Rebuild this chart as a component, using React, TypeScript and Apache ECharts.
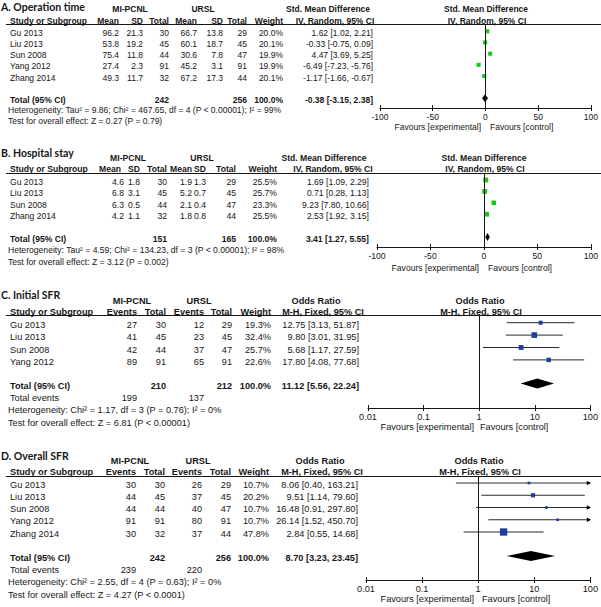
import React, { useEffect, useRef } from "react";
import * as echarts from "echarts";

// ---------------- Data ----------------
// A. Operation time (continuous)
const studiesA = ["Gu 2013", "Liu 2013", "Sun 2008", "Yang 2012", "Zhang 2014"];
const expMeanA = [96.2, 53.8, 75.4, 27.4, 49.3];
const expSdA = [21.3, 19.2, 11.8, 2.3, 11.7];
const expTotalA = [30, 45, 44, 91, 32];
const ctlMeanA = [66.7, 60.1, 30.6, 45.2, 67.2];
const ctlSdA = [13.8, 18.7, 7.8, 3.1, 17.3];
const ctlTotalA = [29, 45, 47, 91, 44];
const weightA = [20.0, 20.1, 19.9, 19.9, 20.1];
const smdA = [1.62, -0.33, 4.47, -6.49, -1.17];
const lowA = [1.02, -0.75, 3.69, -7.23, -1.66];
const highA = [2.21, 0.09, 5.25, -5.76, -0.67];
const totalsA = [242, 256];
const pooledA = [-0.38, -3.15, 2.38];
const hetA = "Heterogeneity: Tau² = 9.86; Chi² = 467.65, df = 4 (P < 0.00001); I² = 99%";
const testA = "Test for overall effect: Z = 0.27 (P = 0.79)";

// B. Hospital stay (continuous)
const studiesB = ["Gu 2013", "Liu 2013", "Sun 2008", "Zhang 2014"];
const expMeanB = [4.6, 6.8, 6.3, 4.2];
const expSdB = [1.8, 3.1, 0.5, 1.1];
const expTotalB = [30, 45, 44, 32];
const ctlMeanB = [1.9, 5.2, 2.1, 1.8];
const ctlSdB = [1.3, 0.7, 0.4, 0.8];
const ctlTotalB = [29, 45, 47, 44];
const weightB = [25.5, 25.7, 23.3, 25.5];
const smdB = [1.69, 0.71, 9.23, 2.53];
const lowB = [1.09, 0.28, 7.8, 1.92];
const highB = [2.29, 1.13, 10.66, 3.15];
const totalsB = [151, 165];
const pooledB = [3.41, 1.27, 5.55];
const hetB = "Heterogeneity: Tau² = 4.59; Chi² = 134.23, df = 3 (P < 0.00001); I² = 98%";
const testB = "Test for overall effect: Z = 3.12 (P = 0.002)";

// C. Initial SFR (dichotomous)
const studiesC = ["Gu 2013", "Liu 2013", "Sun 2008", "Yang 2012"];
const expEventsC = [27, 41, 42, 89];
const expTotalC = [30, 45, 44, 91];
const ctlEventsC = [12, 23, 37, 65];
const ctlTotalC = [29, 45, 47, 91];
const weightC = [19.3, 32.4, 25.7, 22.6];
const orC = [12.75, 9.8, 5.68, 17.8];
const lowC = [3.13, 3.01, 1.17, 4.08];
const highC = [51.87, 31.95, 27.59, 77.68];
const totalsC = [210, 212];
const totalEventsC = [199, 137];
const pooledC = [11.12, 5.56, 22.24];
const hetC = "Heterogeneity: Chi² = 1.17, df = 3 (P = 0.76); I² = 0%";
const testC = "Test for overall effect: Z = 6.81 (P < 0.00001)";

// D. Overall SFR (dichotomous)
const studiesD = ["Gu 2013", "Liu 2013", "Sun 2008", "Yang 2012", "Zhang 2014"];
const expEventsD = [30, 44, 44, 91, 30];
const expTotalD = [30, 45, 44, 91, 32];
const ctlEventsD = [26, 37, 40, 80, 37];
const ctlTotalD = [29, 45, 47, 91, 44];
const weightD = [10.7, 20.2, 10.7, 10.7, 47.8];
const orD = [8.06, 9.51, 16.48, 26.14, 2.84];
const lowD = [0.4, 1.14, 0.91, 1.52, 0.55];
const highD = [163.21, 79.6, 297.8, 450.7, 14.68];
const totalsD = [242, 256];
const totalEventsD = [239, 220];
const pooledD = [8.7, 3.23, 23.45];
const hetD = "Heterogeneity: Chi² = 2.55, df = 4 (P = 0.63); I² = 0%";
const testD = "Test for overall effect: Z = 4.27 (P < 0.0001)";

// Axis ticks
const linearTicks = [-100, -50, 0, 50, 100];
const logTicks = [0.01, 0.1, 1, 10, 100];

// ---------------- Style / layout ----------------
const FF = '"Liberation Sans", Arial, sans-serif';
const TF = 'Lato, "Open Sans", sans-serif';
const INK = "#161616";
const GREEN = "#18c818";
const BLUE = "#1c3e9e";

const panels: any[] = [
  {
    kind: "cont", title: "A. Operation time", studies: studiesA,
    cols: [expMeanA, expSdA, expTotalA, ctlMeanA, ctlSdA, ctlTotalA], dec: [1, 1, 0, 1, 1, 0],
    weights: weightA, est: smdA, low: lowA, high: highA, totals: totalsA, pooled: pooledA, het: hetA, test: testA,
    measure: "Std. Mean Difference", method: "IV, Random, 95% CI", color: GREEN,
    lay: {
      fs: 8.5, titleY: 7, grpY: 9, headY: 20.5, lineY: 24, row0: 31.3, step: 11.2, totalY: 98.3, dy: 1.5,
      hetY: 110, testY: 121, axisY: 108, favY: 127, plotL: 380, plotR: 591,
      colX: [119, 143, 169, 197, 223, 247], headX: [119, 143, 169, 197, 223, 247], wX: 283, ciX: 373,
      grpE: 130, grpC: 203, mHead1: 328, mHead2: 335, plotHead: 486, favL: 481, favR: 490,
    },
  },
  {
    kind: "cont", title: "B. Hospital stay", studies: studiesB,
    cols: [expMeanB, expSdB, expTotalB, ctlMeanB, ctlSdB, ctlTotalB], dec: [1, 1, 0, 1, 1, 0],
    weights: weightB, est: smdB, low: lowB, high: highB, totals: totalsB, pooled: pooledB, het: hetB, test: testB,
    measure: "Std. Mean Difference", method: "IV, Random, 95% CI", color: GREEN,
    lay: {
      fs: 8.6, titleY: 153, grpY: 158, headY: 169, lineY: 173, row0: 180, step: 11.4, totalY: 237, dy: 2,
      hetY: 250, testY: 262, axisY: 247, favY: 268, plotL: 377, plotR: 591,
      colX: [124, 140, 167, 192, 206, 236], headX: [121, 140, 167, 192, 206, 236], wX: 277, ciX: 369,
      grpE: 128, grpC: 202, mHead1: 324, mHead2: 333, plotHead: 484, favL: 479, favR: 488,
    },
  },
  {
    kind: "dich", title: "C. Initial SFR", studies: studiesC,
    cols: [expEventsC, expTotalC, ctlEventsC, ctlTotalC], dec: [0, 0, 0, 0],
    weights: weightC, est: orC, low: lowC, high: highC, totals: totalsC, events: totalEventsC, pooled: pooledC, het: hetC, test: testC,
    measure: "Odds Ratio", method: "M-H, Fixed, 95% CI", color: BLUE,
    lay: {
      fs: 9.2, titleY: 295, grpY: 301, headY: 312, lineY: 315, row0: 322.7, step: 12.4, totalY: 383.5, dy: 2,
      eventsY: 398, hetY: 410, testY: 423, axisY: 408, favY: 427, plotL: 368, plotR: 591,
      colX: [137, 166, 204, 232], headX: [137, 166, 204, 232], wX: 271, ciX: 359,
      grpE: 132, grpC: 199, mHead1: 316, mHead2: 323, plotHead: 480, favL: 474, favR: 480,
    },
  },
  {
    kind: "dich", title: "D. Overall SFR", studies: studiesD,
    cols: [expEventsD, expTotalD, ctlEventsD, ctlTotalD], dec: [0, 0, 0, 0],
    weights: weightD, est: orD, low: lowD, high: highD, totals: totalsD, events: totalEventsD, pooled: pooledD, het: hetD, test: testD,
    measure: "Odds Ratio", method: "M-H, Fixed, 95% CI", color: BLUE,
    lay: {
      fs: 9.2, titleY: 456, grpY: 461, headY: 472, lineY: 476, row0: 483, step: 12.25, totalY: 556, dy: 1.5,
      eventsY: 570, hetY: 582, testY: 595, axisY: 580, favY: 599, plotL: 366, plotR: 591,
      colX: [136, 165, 202, 231], headX: [136, 165, 202, 231], wX: 269, ciX: 358,
      grpE: 130, grpC: 198, mHead1: 320, mHead2: 322, plotHead: 479, favL: 474, favR: 482,
    },
  },
];

const T = (x: number, y: number, s: string, align = "left", bold = false, size = 8.5, fam = FF) => ({
  type: "text", x, y, silent: true,
  style: {
    text: s, font: `${bold ? "bold " : ""}${size}px ${fam}`, fill: INK,
    textAlign: align, textVerticalAlign: "middle",
  },
});
const Ln = (x1: number, y1: number, x2: number, y2: number) => ({
  type: "line", silent: true, shape: { x1, y1, x2, y2 }, style: { stroke: INK, lineWidth: 1 },
});

const ciText = (e: number, l: number, h: number) => `${e.toFixed(2)} [${l.toFixed(2)}, ${h.toFixed(2)}]`;
const fmtTick = (v: number) => String(parseFloat(Number(v).toPrecision(6)));

function studyRenderer(isLog: boolean, color: string) {
  const lo = isLog ? logTicks[0] : linearTicks[0];
  const hi = isLog ? logTicks[logTicks.length - 1] : linearTicks[linearTicks.length - 1];
  const cl = (v: number) => Math.max(lo, Math.min(hi, v));
  return (params: any, api: any) => {
    const est = api.value(0), l = api.value(1), h = api.value(2), row = api.value(3), w = api.value(4);
    const pL = api.coord([cl(l), row]);
    const pH = api.coord([cl(h), row]);
    const pE = api.coord([est, row]);
    const s = 0.55 * Math.pow(w, 0.67);
    const children: any[] = [
      { type: "line", shape: { x1: pL[0], y1: pL[1], x2: pH[0], y2: pH[1] }, style: { stroke: "#2a2a2a", lineWidth: 1 } },
      { type: "rect", shape: { x: pE[0] - s / 2, y: pE[1] - s / 2, width: s, height: s }, style: { fill: color } },
    ];
    if (h > hi) {
      children.push({
        type: "polygon",
        shape: { points: [[pH[0] + 0.5, pH[1]], [pH[0] - 3.5, pH[1] - 2.3], [pH[0] - 3.5, pH[1] + 2.3]] },
        style: { fill: "#000" },
      });
    }
    return { type: "group", children };
  };
}

function diamondRenderer(halfH: number) {
  return (params: any, api: any) => {
    const e = api.value(0), l = api.value(1), h = api.value(2), row = api.value(3);
    const pL = api.coord([l, row]), pH = api.coord([h, row]), pE = api.coord([e, row]);
    return {
      type: "polygon",
      shape: { points: [[pL[0], pL[1]], [pE[0], pE[1] - halfH], [pH[0], pH[1]], [pE[0], pE[1] + halfH]] },
      style: { fill: "#000" },
    };
  };
}

function buildOption() {
  const grid: any[] = [], xAxis: any[] = [], yAxis: any[] = [], series: any[] = [], elements: any[] = [];

  panels.forEach((p, i) => {
    const a = p.lay;
    const isLog = p.kind === "dich";
    const fs = a.fs;
    const ticks = isLog ? logTicks : linearTicks;

    grid.push({ left: a.plotL, top: a.lineY, width: a.plotR - a.plotL, height: a.axisY - a.lineY });
    const base: any = {
      gridIndex: i, position: "bottom", type: isLog ? "log" : "value",
      min: ticks[0], max: ticks[ticks.length - 1], splitLine: { show: false },
    };
    if (isLog) base.logBase = 10; else base.interval = ticks[1] - ticks[0];
    xAxis.push({
      ...base,
      axisLine: { show: true, onZero: false, lineStyle: { color: INK, width: 1 } },
      axisTick: { show: true, length: 3, lineStyle: { color: INK, width: 1 } },
      axisLabel: { show: true, margin: 4, fontSize: fs, fontFamily: FF, color: INK, formatter: fmtTick },
    });
    xAxis.push({
      ...base,
      axisLine: { show: false, onZero: false },
      axisTick: { show: true, inside: true, length: 3, lineStyle: { color: INK, width: 1 } },
      axisLabel: { show: false },
    });
    yAxis.push({
      type: "value", gridIndex: i, inverse: true, show: false,
      min: (a.lineY - a.row0) / a.step, max: (a.axisY - a.row0) / a.step,
    });
    const totalIdx = (a.totalY - a.row0) / a.step;

    series.push({
      type: "custom", xAxisIndex: 2 * i, yAxisIndex: i, z: 3,
      data: p.est.map((e: number, k: number) => [e, p.low[k], p.high[k], k, p.weights[k]]),
      encode: { x: [0, 1, 2], y: 3 },
      renderItem: studyRenderer(isLog, p.color),
      markLine: {
        silent: true, symbol: ["none", "none"], label: { show: false },
        lineStyle: { color: INK, width: 1, type: "solid" },
        data: [{ xAxis: isLog ? 1 : 0 }],
      },
    });
    series.push({
      type: "custom", xAxisIndex: 2 * i, yAxisIndex: i, z: 4,
      data: [[p.pooled[0], p.pooled[1], p.pooled[2], totalIdx]],
      encode: { x: [0, 1, 2], y: 3 },
      renderItem: diamondRenderer(isLog ? 5 : 4),
    });

    // Texts
    elements.push(T(1, a.titleY, p.title, "left", true, 10.5, TF));
    elements.push(T(a.grpE, a.grpY, "MI-PCNL", "center", true, fs));
    elements.push(T(a.grpC, a.grpY, "URSL", "center", true, fs));
    elements.push(T(a.mHead1, a.grpY, p.measure, "center", true, fs));
    elements.push(T(a.plotHead, a.grpY, p.measure, "center", true, fs));

    const heads = isLog ? ["Events", "Total", "Events", "Total"] : ["Mean", "SD", "Total", "Mean", "SD", "Total"];
    elements.push(T(10, a.headY, "Study or Subgroup", "left", true, fs));
    heads.forEach((h, k) => elements.push(T(a.headX[k], a.headY, h, "right", true, fs)));
    elements.push(T(a.wX, a.headY, "Weight", "right", true, fs));
    elements.push(T(a.mHead2, a.headY, p.method, "center", true, fs));
    elements.push(T(a.plotHead + 1, a.headY, p.method, "center", true, fs));
    elements.push(Ln(6, a.lineY + 0.5, 601, a.lineY + 0.5));

    p.studies.forEach((s: string, k: number) => {
      const y = a.row0 + k * a.step + a.dy;
      elements.push(T(10, y, s, "left", false, fs));
      p.cols.forEach((col: number[], c: number) => elements.push(T(a.colX[c], y, col[k].toFixed(p.dec[c]), "right", false, fs)));
      elements.push(T(a.wX, y, p.weights[k].toFixed(1) + "%", "right", false, fs));
      elements.push(T(a.ciX, y, ciText(p.est[k], p.low[k], p.high[k]), "right", false, fs));
    });

    const ty = a.totalY + a.dy;
    const totCols = isLog ? [1, 3] : [2, 5];
    elements.push(T(10, ty, "Total (95% CI)", "left", true, fs));
    elements.push(T(a.colX[totCols[0]], ty, String(p.totals[0]), "right", true, fs));
    elements.push(T(a.colX[totCols[1]], ty, String(p.totals[1]), "right", true, fs));
    elements.push(T(a.wX, ty, "100.0%", "right", true, fs));
    elements.push(T(a.ciX, ty, ciText(p.pooled[0], p.pooled[1], p.pooled[2]), "right", true, fs));

    if (isLog) {
      elements.push(T(10, a.eventsY, "Total events", "left", false, fs));
      elements.push(T(a.colX[0], a.eventsY, String(p.events[0]), "right", false, fs));
      elements.push(T(a.colX[2], a.eventsY, String(p.events[1]), "right", false, fs));
    }
    elements.push(T(8, a.hetY, p.het, "left", false, fs));
    elements.push(T(8, a.testY, p.test, "left", false, fs));

    elements.push(T(a.favL, a.favY, "Favours [experimental]", "right", false, fs));
    elements.push(T(a.favR, a.favY, "Favours [control]", "left", false, fs));
  });

  return {
    animation: false,
    backgroundColor: "#ffffff",
    grid, xAxis, yAxis, series,
    graphic: { elements },
  };
}

export default function App() {
  const ref = useRef<HTMLDivElement>(null);
  useEffect(() => {
    const chart = echarts.init(ref.current as HTMLDivElement, null, { renderer: "svg" });
    chart.setOption(buildOption() as any);
    return () => chart.dispose();
  }, []);
  return (
    <div
      ref={ref}
      style={{ position: "absolute", left: 0, top: 0, width: 601, height: 607, background: "#fff" }}
    />
  );
}
